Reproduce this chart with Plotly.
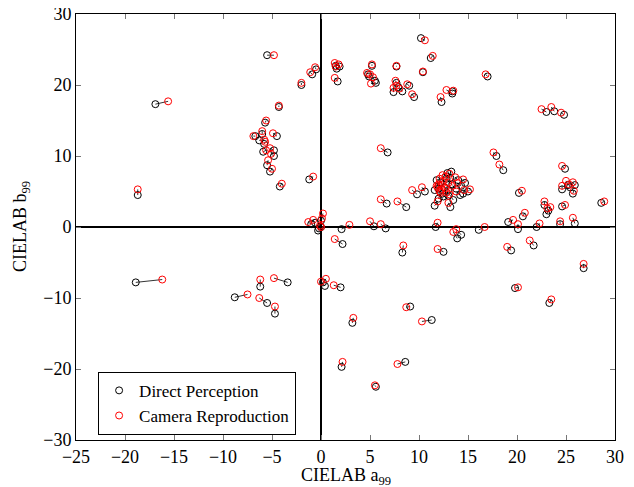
import plotly.graph_objects as go

direct_a = [-5.5, -0.9, -0.5, -2.0, -16.9, -4.3, -5.7, -6.7, -6.0, -4.5, -6.3, -5.8, -5.9, -4.8, -4.8, -5.5, -5.2, -4.2, -1.2, -18.7,
            -1.0, -0.6, 0.0, -0.3, 0.0, -0.2, 2.1,
            10.2, 11.2, 10.4, 7.7, 5.2, 4.8, 4.9, 5.5, 5.6, 1.5, 1.9, 1.6, 1.7, 7.4, 7.7, 7.9, 8.3, 9.0, 9.5, 12.3, 13.4, 13.4, 17.0,
            23.0, 23.8, 24.8, 6.8, 9.8, 10.6, 6.7, 8.7, 11.6, 13.2, 5.4, 6.6, 11.7, 16.1, 15.0, 17.9, 18.6, 20.2, 24.9, 24.6,
            25.2, 25.7, 25.9, 25.4, 28.6, 24.6, 22.8, 23.0, 23.2, 20.6, 19.1, 20.1, 22.0, 24.4, 25.9,
            11.6, 12.0, 12.5, 13.5, 14.2, 14.5, 14.7, 14.0, 13.3, 12.8, 12.2, 12.6, 13.0, 13.4, 12.0, 12.4, 13.0, 13.8, 11.8, 13.2, 12.9, 14.3,
            -18.9, -6.2, -3.4, -8.8, -5.5, -4.7, 2.2, 8.3, 12.5, 13.9, 14.3, 0.4, 0.2, 2.0, 9.1, 11.3, 3.2, 19.4, 21.7, 26.8,
            19.8, 23.3, 2.1, 8.6, 5.6]
direct_b = [24.2, 21.5, 22.2, 20.0, 17.3, 16.9, 14.7, 12.8, 13.1, 12.8, 12.2, 11.7, 10.6, 10.8, 10.0, 8.7, 7.8, 5.7, 6.7, 4.5,
            0.4, 0.6, 0.9, -0.5, 0.0, -0.2, -0.3,
            26.6, 23.8, 21.8, 22.6, 22.7, 21.5, 21.2, 20.6, 20.3, 22.7, 22.6, 22.3, 20.5, 19.0, 20.3, 19.7, 19.1, 19.9, 18.3, 17.6, 18.8, 19.1, 21.2,
            16.2, 16.3, 15.8, 10.5, 4.6, 5.0, 3.3, 2.8, 3.0, 2.8, 0.1, -0.2, 0.0, -0.4, 5.0, 10.0, 8.0, 4.8, 8.2, 5.3,
            5.9, 4.7, 5.9, 5.6, 3.4, 2.9, 3.1, 1.8, 2.3, 1.5, 0.7, -0.3, 0.0, 0.4, 0.5,
            5.2, 4.0, 4.3, 3.8, 4.5, 4.7, 6.2, 6.6, 7.8, 6.8, 6.2, 5.6, 5.2, 6.0, 5.4, 4.7, 4.4, 5.4, 6.6, 6.9, 7.6, 5.8,
            -7.8, -8.4, -7.8, -9.9, -10.7, -12.2, -2.4, -3.6, -3.5, -1.6, -1.1, -8.3, -7.8, -8.5, -11.2, -13.1, -13.5, -3.3, -2.6, -5.8,
            -8.6, -10.7, -19.7, -19.0, -22.5]
camera_a = [-4.8, -1.1, -0.6, -2.0, -15.6, -4.3, -5.6, -6.9, -6.0, -4.9, -5.8, -5.7, -5.6, -5.2, -5.1, -5.4, -5.0, -4.0, -0.8, -18.7,
            -1.3, -0.8, 0.2, -0.1, 0.0, 0.1, 2.9,
            10.6, 11.4, 10.4, 7.7, 5.2, 4.7, 5.0, 5.3, 5.1, 1.4, 1.8, 1.5, 1.4, 7.4, 7.6, 7.7, 8.0, 8.8, 9.3, 12.2, 12.8, 13.5, 16.8,
            22.5, 23.5, 24.5, 6.1, 9.3, 10.3, 6.1, 7.8, 11.9, 13.0, 5.0, 6.1, 11.9, 16.7, 15.2, 17.6, 18.2, 20.5, 24.6, 24.6,
            25.0, 25.8, 25.7, 25.3, 28.9, 24.9, 22.8, 23.4, 23.1, 20.8, 19.6, 20.1, 22.3, 24.4, 25.7,
            11.9, 12.2, 12.3, 13.1, 13.8, 14.6, 14.5, 13.7, 13.1, 12.5, 12.0, 12.3, 12.7, 13.0, 11.8, 12.1, 12.8, 13.4, 12.1, 12.7, 12.4, 13.9,
            -16.2, -6.2, -4.8, -7.5, -6.3, -4.7, 1.4, 8.4, 11.9, 13.5, 13.8, 0.0, 0.5, 1.3, 8.7, 10.3, 3.3, 19.0, 21.3, 26.8,
            20.1, 23.5, 2.2, 7.8, 5.5]
camera_b = [24.2, 21.8, 22.5, 20.3, 17.7, 17.1, 15.0, 12.8, 13.5, 13.2, 12.3, 12.0, 10.8, 11.1, 10.3, 9.4, 8.2, 6.1, 7.1, 5.3,
            0.7, 1.0, 1.9, 0.2, 0.0, 1.2, 0.3,
            26.3, 24.1, 21.9, 22.7, 22.9, 21.7, 21.5, 21.1, 20.2, 23.1, 22.9, 22.6, 21.0, 19.6, 20.6, 19.9, 19.5, 20.1, 18.7, 18.3, 19.3, 19.2, 21.5,
            16.6, 16.9, 16.1, 11.1, 5.2, 5.6, 3.9, 3.6, 3.6, 3.4, 0.8, 0.4, 0.6, 0.0, 5.3, 10.5, 8.8, 5.1, 8.6, 5.8,
            6.5, 5.1, 6.3, 6.0, 3.6, 3.1, 3.6, 2.8, 2.6, 2.0, 1.0, 0.4, 0.5, 0.8, 1.3,
            5.6, 4.8, 5.3, 4.6, 5.0, 5.2, 6.7, 7.0, 7.5, 6.5, 6.0, 5.9, 5.5, 6.2, 5.8, 5.0, 4.9, 5.8, 6.8, 7.1, 7.3, 6.2,
            -7.4, -7.4, -7.2, -9.5, -10.0, -11.2, -1.7, -2.6, -3.1, -0.7, -0.3, -7.7, -7.3, -8.2, -11.3, -13.3, -12.8, -2.8, -1.9, -5.2,
            -8.5, -10.2, -19.0, -19.3, -22.3]

x_ticks = [-25, -20, -15, -10, -5, 0, 5, 10, 15, 20, 25, 30]
y_ticks = [-30, -20, -10, 0, 10, 20, 30]

seg_x, seg_y = [], []
for xa, ya, xb, yb in zip(direct_a, direct_b, camera_a, camera_b):
    seg_x += [xa, xb, None]
    seg_y += [ya, yb, None]

FONT = "Liberation Serif"
fig = go.Figure()
fig.add_trace(go.Scatter(x=seg_x, y=seg_y, mode="lines", line=dict(color="black", width=0.8),
                         showlegend=False, hoverinfo="skip"))
fig.add_trace(go.Scatter(x=direct_a, y=direct_b, mode="markers", name="Direct Perception",
                         marker=dict(symbol="circle-open", size=7, color="black", line=dict(width=1, color="black"))))
fig.add_trace(go.Scatter(x=camera_a, y=camera_b, mode="markers", name="Camera Reproduction",
                         marker=dict(symbol="circle-open", size=7, color="red", line=dict(width=1, color="red"))))

axis_common = dict(showgrid=False, ticks="inside", ticklen=5, tickcolor="#777", showline=True, linecolor="black",
                   linewidth=1, mirror="ticks", zeroline=True, zerolinecolor="black", zerolinewidth=1.6,
                   automargin=False, ticklabeloverflow="allow",
                   tickfont=dict(family=FONT, size=18, color="black"))
fig.update_xaxes(range=[-25, 30], tickvals=x_ticks, **axis_common)
fig.update_yaxes(range=[-30, 30], tickvals=y_ticks, **axis_common)

fig.add_annotation(text="CIELAB a<sub>99</sub>", xref="paper", yref="paper", x=0.5, y=0,
                   xanchor="center", yanchor="middle", yshift=-36, showarrow=False,
                   font=dict(family=FONT, size=18, color="black"))
fig.add_annotation(text="CIELAB b<sub>99</sub>", xref="paper", yref="paper", x=0, y=0.5,
                   xanchor="center", yanchor="middle", xshift=-55, textangle=-90, showarrow=False,
                   font=dict(family=FONT, size=18, color="black"))

fig.update_layout(width=626, height=479, margin=dict(l=68, r=19, t=6, b=47),
                  plot_bgcolor="white", paper_bgcolor="white",
                  font=dict(family=FONT, color="black"),
                  legend=dict(x=0.041, y=0.16, xanchor="left", yanchor="top", bgcolor="white",
                              bordercolor="black", borderwidth=1, font=dict(family=FONT, size=17, color="black"),
                              itemwidth=30, tracegroupgap=0))
fig.write_html("out.html")
